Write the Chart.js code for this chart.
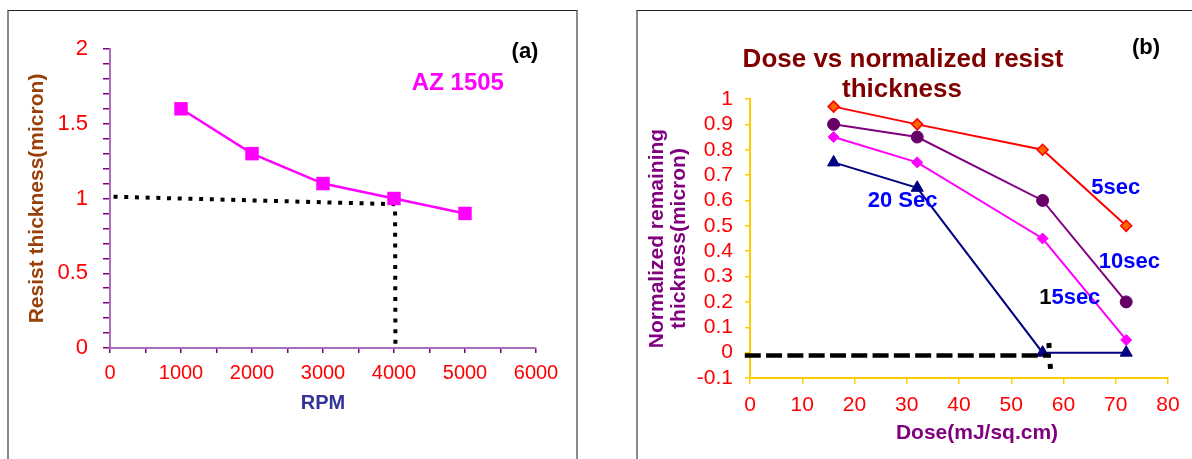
<!DOCTYPE html>
<html><head><meta charset="utf-8">
<script src="https://cdn.jsdelivr.net/npm/chart.js@4.4.0/dist/chart.umd.min.js"></script>
<style>
html,body{margin:0;padding:0;background:#fff;overflow:hidden;width:1192px;height:459px;}
.panel{position:absolute;box-sizing:border-box;}
#pa{left:7px;top:10px;width:571px;height:470px;border-left:2px solid #8a8a8a;border-right:2px solid #8a8a8a;border-top:1px solid #222;}
#pb{left:636px;top:10px;width:600px;height:470px;border-left:2px solid #8a8a8a;border-top:1px solid #222;}
.cw{position:absolute;top:0;height:459px;}
#wa{left:0;width:600px;}
#wb{left:600px;width:592px;}
</style></head>
<body>
<div class="panel" id="pa"></div><div class="panel" id="pb"></div>
<div class="cw" id="wa"><canvas id="ca"></canvas></div>
<div class="cw" id="wb"><canvas id="cb"></canvas></div>
<script>
// ---- data: panel (a) ----
const rpm = [1000, 2000, 3000, 4000, 5000];
const thickness = [1.6, 1.3, 1.1, 1.0, 0.9];
const guideA_x = [50, 4015, 4020];
const guideA_y = [1.012, 0.962, 0];
const majorTicksA_y = [0, 0.5, 1, 1.5, 2];
const majorTicksA_x = [0, 1000, 2000, 3000, 4000, 5000, 6000];

// ---- data: panel (b) ----
const dose = [16, 32, 56, 72];
const t5sec = [0.97, 0.90, 0.80, 0.50];
const t10sec = [0.90, 0.85, 0.60, 0.20];
const t15sec = [0.85, 0.75, 0.45, 0.05];
const t20sec = [0.75, 0.65, 0.00, 0.00];
const guideB_x = [-1, 57.6];
const guideB_y = [-0.011, -0.011];
const markB_x = [57.2, 57.5];
const markB_y = [0.038, -0.064];
const ticksB_x = [0, 10, 20, 30, 40, 50, 60, 70, 80];

const pts = (xs, ys) => xs.map((x, i) => ({x: x, y: ys[i]}));
const FONT = '"Liberation Sans", Arial, sans-serif';
Chart.defaults.font.family = FONT;

// ---------- Chart (a) ----------
const annA = {
  id: 'annA',
  afterDraw(chart) {
    const {ctx, scales: {x, y}} = chart;
    ctx.save();
    ctx.textAlign = 'center'; ctx.textBaseline = 'middle';
    ctx.font = 'bold 24px ' + FONT; ctx.fillStyle = '#FF00FF';
    ctx.fillText('AZ 1505', x.getPixelForValue(4900), y.getPixelForValue(1.773));
    ctx.font = 'bold 22px ' + FONT; ctx.fillStyle = '#000';
    ctx.fillText('(a)', 525, 52);
    ctx.restore();
  }
};
new Chart(document.getElementById('ca'), {
  type: 'line',
  data: {datasets: [
    {data: pts(rpm, thickness), borderColor: '#FF00FF', backgroundColor: '#FF00FF',
     borderWidth: 2.5, pointStyle: 'rect', pointRadius: 9.5, pointBorderWidth: 0, tension: 0},
    {data: pts(guideA_x, guideA_y), borderColor: '#000', borderWidth: 4, borderDash: [4, 6.7],
     borderCapStyle: 'butt', pointRadius: 0, clip: false, tension: 0}
  ]},
  options: {
    responsive: true, maintainAspectRatio: false, animation: false,
    layout: {padding: {left: 0, right: 64, top: 49, bottom: 0}},
    plugins: {legend: {display: false}, tooltip: {enabled: false}, title: {display: false}},
    scales: {
      x: {type: 'linear', min: 0, max: 6000,
        afterFit(s) { s.height = 111; },
        border: {display: true, color: '#A86CB8', width: 2},
        grid: {drawOnChartArea: false, drawTicks: true, tickLength: 5, color: '#800080', lineWidth: 1.5},
        ticks: {stepSize: 500, maxTicksLimit: 100, autoSkip: false, maxRotation: 0, color: '#FF0000',
          font: {size: 20}, padding: 8,
          callback: v => majorTicksA_x.includes(v) ? String(v) : ''},
        title: {display: true, text: 'RPM', color: '#333399', font: {size: 20, weight: 'bold'}, padding: {top: 0, bottom: 44}}
      },
      y: {type: 'linear', min: 0, max: 2,
        afterFit(s) { s.width = 110; },
        border: {display: true, color: '#A86CB8', width: 2},
        grid: {drawOnChartArea: false, drawTicks: true, tickLength: 7, color: '#800080', lineWidth: 1.5},
        ticks: {stepSize: 0.1, maxTicksLimit: 100, autoSkip: false, color: '#FF0000', font: {size: 22}, padding: 15,
          callback: v => { const r = Math.round(v * 10) / 10; return majorTicksA_y.includes(r) ? String(r) : ''; }},
        title: {display: true, text: 'Resist thickness(micron)', color: '#99400A', font: {size: 21, weight: 'bold'}, padding: {top: 25, bottom: 0}}
      }
    }
  },
  plugins: [annA]
});

// ---------- Chart (b) ----------
const annB = {
  id: 'annB',
  afterDraw(chart) {
    const {ctx, scales: {x, y}} = chart;
    ctx.save();
    ctx.textAlign = 'center'; ctx.textBaseline = 'middle';
    ctx.font = 'bold 26px ' + FONT; ctx.fillStyle = '#800000';
    ctx.fillText('Dose vs normalized resist', 303, 60);
    ctx.fillText('thickness', 302, 90);
    ctx.font = 'bold 22px ' + FONT; ctx.fillStyle = '#000';
    ctx.fillText('(b)', 546, 48);
    ctx.font = 'bold 21px ' + FONT; ctx.fillStyle = '#800080';
    ctx.fillText('Dose(mJ/sq.cm)', 377, 433);
    ctx.font = 'bold 22px ' + FONT; ctx.fillStyle = '#0000FF';
    ctx.fillText('5sec', x.getPixelForValue(70.0), y.getPixelForValue(0.649));
    ctx.fillText('10sec', x.getPixelForValue(72.6), y.getPixelForValue(0.357));
    ctx.fillText('20 Sec', x.getPixelForValue(29.2), y.getPixelForValue(0.598));
    // "15sec" with black "1"
    const cx = x.getPixelForValue(61.2), cy = y.getPixelForValue(0.215);
    const w1 = ctx.measureText('1').width, w2 = ctx.measureText('5sec').width;
    const sx = cx - (w1 + w2) / 2;
    ctx.textAlign = 'left';
    ctx.fillStyle = '#000'; ctx.fillText('1', sx, cy);
    ctx.fillStyle = '#0000FF'; ctx.fillText('5sec', sx + w1, cy);
    ctx.restore();
  }
};
new Chart(document.getElementById('cb'), {
  type: 'line',
  data: {datasets: [
    {data: pts(guideB_x, guideB_y), borderColor: '#000', borderWidth: 4.5, borderDash: [16, 5.3],
     borderCapStyle: 'butt', pointRadius: 0, clip: false, tension: 0},
    {data: pts(markB_x, markB_y), borderColor: '#000', borderWidth: 5, borderDash: [5, 16],
     borderCapStyle: 'butt', pointRadius: 0, clip: false, tension: 0},
    {label: '20 Sec', data: pts(dose, t20sec), borderColor: '#000080', backgroundColor: '#000080', borderWidth: 2,
     pointStyle: 'triangle', pointRadius: 7, pointBorderWidth: 1, tension: 0, clip: false},
    {label: '15sec', data: pts(dose, t15sec), borderColor: '#FF00FF', backgroundColor: '#FF00FF', borderWidth: 2,
     pointStyle: 'rectRot', pointRadius: 5.5, pointBorderWidth: 1, tension: 0, clip: false},
    {label: '10sec', data: pts(dose, t10sec), borderColor: '#800080', backgroundColor: '#660066', borderWidth: 2,
     pointStyle: 'circle', pointRadius: 6, pointBorderColor: '#660066', pointBorderWidth: 1, tension: 0, clip: false},
    {label: '5sec', data: pts(dose, t5sec), borderColor: '#FF0000', backgroundColor: '#FF6600', borderWidth: 2,
     pointStyle: 'rectRot', pointRadius: 5.5, pointBorderColor: '#FF0000', pointBorderWidth: 1.5, tension: 0, clip: false}
  ]},
  options: {
    responsive: true, maintainAspectRatio: false, animation: false,
    layout: {padding: {left: 0, right: 24, top: 99, bottom: 0}},
    plugins: {legend: {display: false}, tooltip: {enabled: false}, title: {display: false}},
    scales: {
      x: {type: 'linear', min: 0, max: 80,
        afterFit(s) { s.height = 81; },
        border: {display: true, color: '#FFCC00', width: 2},
        grid: {drawOnChartArea: false, drawTicks: true, tickLength: 6, color: '#FFCC00', lineWidth: 1.5},
        ticks: {stepSize: 10, maxTicksLimit: 100, autoSkip: false, maxRotation: 0, color: '#FF0000',
          font: {size: 21}, padding: 9, callback: v => ticksB_x.includes(v) ? String(v) : ''},
        title: {display: false}
      },
      y: {type: 'linear', min: -0.1, max: 1,
        afterFit(s) { s.width = 150; },
        border: {display: true, color: '#FFCC00', width: 2},
        grid: {drawOnChartArea: false, drawTicks: true, tickLength: 5, color: '#FFCC00', lineWidth: 1.5},
        ticks: {stepSize: 0.1, maxTicksLimit: 100, autoSkip: false, color: '#FF0000', font: {size: 21}, padding: 12,
          callback: v => String(Math.round(v * 10) / 10)},
        title: {display: true, text: ['Normalized remaining', 'thickness(micron)'], color: '#800080',
          font: {size: 21, weight: 'bold', lineHeight: 1.05}, padding: {top: 46, bottom: 0}}
      }
    }
  },
  plugins: [annB]
});
</script>
</body></html>
